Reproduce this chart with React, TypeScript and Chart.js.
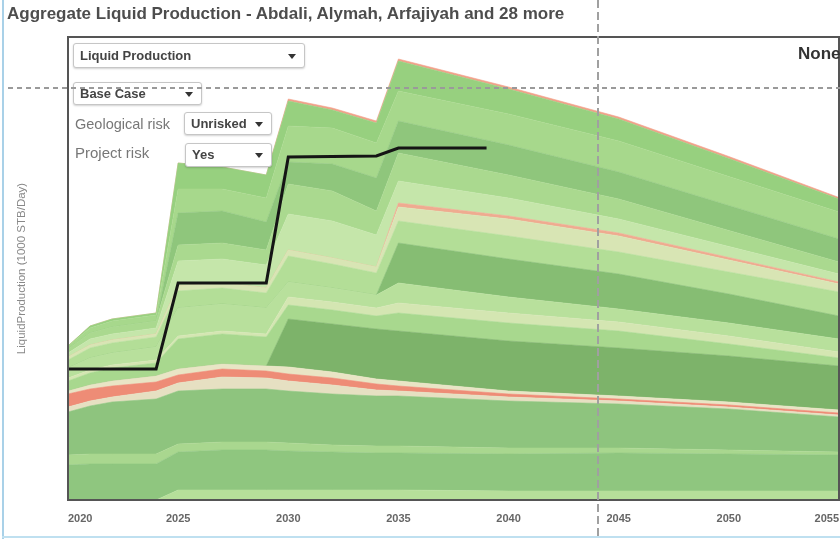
import React, { useEffect, useRef } from "react";
import { Chart, registerables } from "chart.js";

Chart.register(...registerables);

// ---- data (1000 STB/Day) ----
const YEARS = [2020, 2021, 2022, 2024, 2025, 2027, 2029, 2030, 2032, 2034, 2035, 2040, 2045, 2050, 2055];
const X_TICKS = [2020, 2025, 2030, 2035, 2040, 2045, 2050, 2055];

const FIELD_01 = [0, 0, 0, 0, 10, 10, 10, 10, 10, 10, 10, 9, 9, 9, 9];
const FIELD_02 = [35, 36, 36, 36, 38, 40, 40, 39, 38, 37, 37, 37, 38, 37, 36];
const FIELD_03 = [10, 10, 10, 10, 8, 8, 8, 8, 7, 7, 7, 6, 5, 4, 3];
const FIELD_04 = [43, 48, 52, 55, 53, 53, 53, 52, 51, 50, 50, 47, 44, 41, 35];
const FIELD_05 = [5, 5, 5, 8, 8, 12, 11, 10, 9, 6, 5, 4, 3, 2, 2];
const FIELD_06 = [13, 12, 11, 9, 8, 8, 7, 7, 7, 6, 5, 3, 2, 2, 2];
const FIELD_07 = [3, 4, 5, 6, 6, 5, 5, 7, 6, 5, 5, 3, 3, 3, 3];
const FIELD_08 = [0, 0, 0, 0, 0, 0, 0, 48, 48, 50, 50, 50, 48, 46, 44];
const FIELD_09 = [10, 12, 13, 13, 30, 30, 29, 14, 14, 13, 18, 18, 17, 12, 8];
const FIELD_10 = [3, 3, 3, 3, 3, 3, 3, 8, 8, 8, 10, 10, 9, 8, 6];
const FIELD_11 = [10, 12, 12, 13, 28, 27, 26, 15, 14, 13, 20, 16, 13, 13, 13];
const FIELD_12 = [0, 0, 0, 0, 0, 0, 0, 0, 0, 0, 40, 38, 35, 29, 23];
const FIELD_13 = [8, 10, 10, 10, 17, 16, 15, 26, 24, 22, 22, 23, 22, 22, 24];
const FIELD_14 = [3, 3, 3, 3, 5, 5, 5, 6, 6, 6, 14, 17, 16, 12, 8];
const FIELD_15 = [0, 0, 0, 0, 0, 0, 0, 0, 0, 0, 4, 3, 3, 2.5, 2];
const FIELD_16 = [4, 6, 6, 6, 25, 24, 23, 36, 37, 32, 22, 18, 14, 11, 8];
const FIELD_17 = [4, 6, 7, 7, 16, 16, 15, 30, 30, 24, 28, 23, 20, 16, 12];
const FIELD_18 = [0, 0, 0, 0, 32, 32, 28, 22, 27, 33, 32, 30, 27, 25, 23];
const FIELD_19 = [3, 5, 6, 6, 24, 22, 24, 36, 36, 35, 30, 31, 31, 29, 27];
const FIELD_20 = [0, 2, 2, 2, 26, 22, 23, 25, 18, 20, 30, 25, 22, 18, 13];
const FIELD_21 = [0, 0, 0, 0, 0, 0, 0, 2, 2, 2, 2, 2, 2, 2, 1.5];

const TARGET_YEARS = [2020, 2024, 2025, 2029, 2030, 2034, 2035, 2039];
const TARGET_VALUES = [131, 131, 217, 217, 343, 344, 352, 352];

const LAYERS = [
  { name: "Abdali", values: FIELD_01, color: "#b6df9a" },
  { name: "Alymah", values: FIELD_02, color: "#8fc67f" },
  { name: "Arfajiyah", values: FIELD_03, color: "#a9d78f" },
  { name: "Field 04", values: FIELD_04, color: "#8ec47e" },
  { name: "Field 05", values: FIELD_05, color: "#e6e0c2" },
  { name: "Field 06", values: FIELD_06, color: "#ee8c76" },
  { name: "Field 07", values: FIELD_07, color: "#e9e5c5" },
  { name: "Field 08", values: FIELD_08, color: "#7db36a" },
  { name: "Field 09", values: FIELD_09, color: "#a8d88e" },
  { name: "Field 10", values: FIELD_10, color: "#d4e6b2" },
  { name: "Field 11", values: FIELD_11, color: "#b8e09c" },
  { name: "Field 12", values: FIELD_12, color: "#86bd73" },
  { name: "Field 13", values: FIELD_13, color: "#b3de97" },
  { name: "Field 14", values: FIELD_14, color: "#d8e5b4" },
  { name: "Field 15", values: FIELD_15, color: "#efab90" },
  { name: "Field 16", values: FIELD_16, color: "#c5e6aa" },
  { name: "Field 17", values: FIELD_17, color: "#aad98f" },
  { name: "Field 18", values: FIELD_18, color: "#8fc67c" },
  { name: "Field 19", values: FIELD_19, color: "#a7d88c" },
  { name: "Field 20", values: FIELD_20, color: "#97d07f" },
  { name: "Field 21", values: FIELD_21, color: "#f1a18a" },
];

const framePlugin = {
  id: "frame",
  afterDatasetsDraw(chart: any) {
    const { ctx, chartArea: a } = chart;
    ctx.save();
    ctx.strokeStyle = "#555";
    ctx.lineWidth = 2;
    ctx.strokeRect(a.left, a.top, a.right - a.left, a.bottom - a.top);
    ctx.restore();
  },
};

const FONT = '"Liberation Sans", Arial, sans-serif';

function Select(props: { left: number; top: number; width: number; height: number; text: string }) {
  const { left, top, width, height, text } = props;
  return (
    <div
      style={{
        position: "absolute",
        left,
        top,
        width,
        height,
        boxSizing: "border-box",
        border: "1px solid #c6c6c6",
        borderRadius: 3,
        background: "#fff",
        boxShadow: "0 1px 2px rgba(0,0,0,0.18)",
        font: `bold 13px ${FONT}`,
        color: "#444",
        lineHeight: `${height - 2}px`,
        paddingLeft: 6,
        whiteSpace: "nowrap",
      }}
    >
      {text}
      <div
        style={{
          position: "absolute",
          right: 8,
          top: (height - 2) / 2 - 2,
          width: 0,
          height: 0,
          borderLeft: "4px solid transparent",
          borderRight: "4px solid transparent",
          borderTop: "5px solid #333",
        }}
      />
    </div>
  );
}

export default function App() {
  const ref = useRef<HTMLCanvasElement>(null);

  useEffect(() => {
    const canvas = ref.current!;
    const datasets: any[] = LAYERS.map((l, i) => ({
      label: l.name,
      data: YEARS.map((x, j) => ({ x, y: l.values[j] })),
      backgroundColor: l.color,
      borderColor: l.color,
      borderWidth: 0.6,
      pointRadius: 0,
      tension: 0,
      fill: i === 0 ? "origin" : "-1",
      stack: "fields",
      order: 2,
    }));
    datasets.push({
      label: "Target",
      data: TARGET_YEARS.map((x, j) => ({ x, y: TARGET_VALUES[j] })),
      borderColor: "#151515",
      borderWidth: 3,
      pointRadius: 0,
      tension: 0,
      fill: false,
      stack: "target",
      order: 1,
    });

    const chart = new Chart(canvas, {
      type: "line",
      data: { datasets },
      options: {
        responsive: false,
        animation: false,
        devicePixelRatio: 1,
        events: [],
        layout: { padding: { top: 37, right: 1, left: 0, bottom: 0 } },
        plugins: {
          legend: { display: false },
          tooltip: { enabled: false },
          title: { display: false },
        },
        scales: {
          x: {
            type: "linear",
            min: 2020,
            max: 2055,
            grid: { display: false, drawTicks: false },
            border: { display: false },
            afterBuildTicks: (s: any) => {
              s.ticks = X_TICKS.map((v) => ({ value: v }));
            },
            ticks: {
              align: "inner",
              padding: 12,
              color: "#666",
              maxRotation: 0,
              autoSkip: false,
              font: { family: FONT, size: 11, weight: "bold" },
              callback: (v: any) => String(v),
            },
            afterFit: (s: any) => {
              s.height = 41;
              s.paddingLeft = 0;
              s.paddingRight = 0;
            },
          },
          y: {
            stacked: true,
            min: 0,
            max: 463,
            grid: { display: false, drawTicks: false },
            border: { display: false },
            ticks: { display: false },
            title: {
              display: true,
              text: "LiquidProduction (1000 STB/Day)",
              color: "#888",
              font: { family: FONT, size: 11.5 },
              padding: { top: 15, bottom: 0 },
            },
            afterFit: (s: any) => {
              s.width = 68;
              s.paddingTop = 0;
              s.paddingBottom = 0;
            },
          },
        },
      } as any,
      plugins: [framePlugin],
    });
    return () => chart.destroy();
  }, []);

  return (
    <div
      style={{
        position: "absolute",
        left: 0,
        top: 0,
        width: 840,
        height: 541,
        background: "#fff",
        overflow: "hidden",
      }}
    >
      <canvas ref={ref} width={840} height={541} style={{ position: "absolute", left: 0, top: 0 }} />
      <div
        style={{
          position: "absolute",
          left: 7,
          top: 4,
          font: `bold 17px ${FONT}`,
          lineHeight: "20px",
          color: "#4d4d4d",
          whiteSpace: "nowrap",
        }}
      >
        Aggregate Liquid Production - Abdali, Alymah, Arfajiyah and 28 more
      </div>
      <div
        style={{
          position: "absolute",
          left: 798,
          top: 44,
          font: `bold 17px ${FONT}`,
          lineHeight: "20px",
          color: "#333",
          whiteSpace: "nowrap",
        }}
      >
        None
      </div>
      <Select left={73} top={43} width={232} height={25} text="Liquid Production" />
      <Select left={73} top={82} width={129} height={23} text="Base Case" />
      <div style={{ position: "absolute", left: 75, top: 115, font: `14.5px ${FONT}`, lineHeight: "18px", color: "#777" }}>
        Geological risk
      </div>
      <Select left={184} top={112} width={88} height={23} text="Unrisked" />
      <div style={{ position: "absolute", left: 75, top: 144, font: `15px ${FONT}`, lineHeight: "18px", color: "#777" }}>
        Project risk
      </div>
      <Select left={185} top={143} width={87} height={24} text="Yes" />
      {/* crosshair */}
      <div
        style={{
          position: "absolute",
          left: 8,
          top: 87,
          width: 832,
          height: 2,
          background: "repeating-linear-gradient(to right, #9a9a9a 0 5px, transparent 5px 9px)",
        }}
      />
      <div
        style={{
          position: "absolute",
          left: 597,
          top: 0,
          width: 1.5,
          height: 537,
          background: "repeating-linear-gradient(to bottom, #a0a0a0 0 8px, transparent 8px 12px)",
        }}
      />
      {/* outer frame */}
      <div style={{ position: "absolute", left: 2, top: 0, width: 2, height: 539, background: "#a9d1e8" }} />
      <div style={{ position: "absolute", left: 2, top: 536, width: 838, height: 2, background: "#bfe0f0" }} />
    </div>
  );
}
